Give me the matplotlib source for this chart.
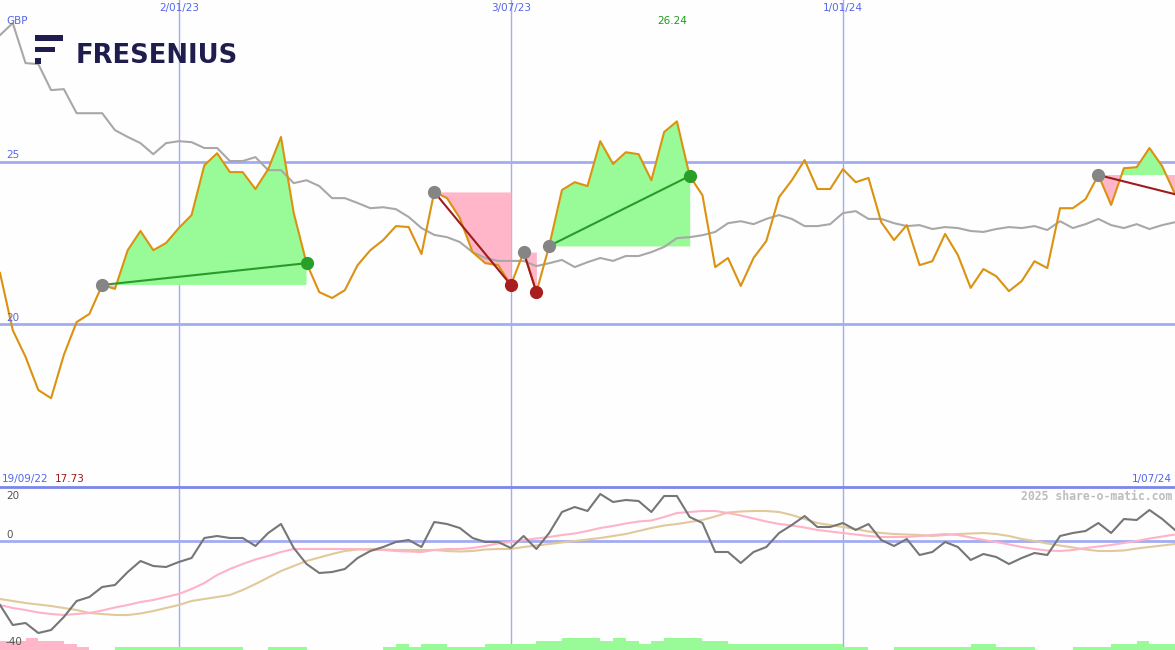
import numpy as np
import pandas as pd
import matplotlib
matplotlib.use("Agg")
import matplotlib.pyplot as plt
import matplotlib.dates as mdates
from matplotlib.patches import Rectangle
from matplotlib.lines import Line2D

# weekly closes, GBP
dates = mdates.date2num(pd.date_range("2022-09-26", "2024-07-01", freq="7D").to_pydatetime())

close = [21.58, 19.82, 19.00, 17.98, 17.73, 19.06, 20.07, 20.32, 21.21, 21.09,
         22.28, 22.87, 22.28, 22.50, 22.96, 23.36, 24.89, 25.26, 24.68, 24.68,
         24.16, 24.77, 25.76, 23.42, 21.88, 20.99, 20.81, 21.05, 21.82, 22.28,
         22.59, 23.02, 22.99, 22.16, 24.07, 23.88, 23.27, 22.22, 21.88, 21.82,
         21.21, 22.22, 20.99, 22.41, 24.13, 24.37, 24.25, 25.63, 24.93, 25.29,
         25.23, 24.43, 25.91, 26.24, 24.56, 23.97, 21.76, 22.04, 21.18, 22.04,
         22.56, 23.91, 24.43, 25.05, 24.16, 24.16, 24.77, 24.37, 24.50, 23.14,
         22.59, 23.05, 21.82, 21.94, 22.78, 22.13, 21.12, 21.70, 21.48, 21.02,
         21.33, 21.94, 21.73, 23.57, 23.57, 23.85, 24.59, 23.67, 24.80, 24.83,
         25.42, 24.86, 24.00]

avg = [28.89, 29.26, 28.03, 28.00, 27.20, 27.23, 26.49, 26.49, 26.49, 25.97,
       25.76, 25.57, 25.23, 25.57, 25.63, 25.60, 25.42, 25.42, 25.02, 25.02,
       25.14, 24.74, 24.74, 24.34, 24.43, 24.25, 23.88, 23.88, 23.73, 23.57,
       23.60, 23.54, 23.30, 22.96, 22.75, 22.68, 22.53, 22.22, 22.04, 21.95,
       21.95, 21.95, 21.79, 21.88, 21.98, 21.76, 21.91, 22.04, 21.95, 22.10,
       22.10, 22.22, 22.38, 22.65, 22.68, 22.74, 22.84, 23.11, 23.17, 23.08,
       23.24, 23.36, 23.24, 23.02, 23.02, 23.08, 23.42, 23.48, 23.24, 23.24,
       23.11, 23.02, 23.05, 22.93, 22.99, 22.96, 22.87, 22.84, 22.93, 22.99,
       22.96, 23.02, 22.90, 23.17, 22.96, 23.08, 23.24, 23.05, 22.96, 23.08,
       22.93, 23.05, 23.14]

# trades: entry week index, exit week index (last one still open)
entries = [8, 34, 41, 43, 86]
exits = [24, 40, 42, 54, 92]
closed = [True, True, True, True, False]

# lower panel oscillator
mom = [-25.6, -33.6, -32.8, -36.8, -35.6, -30.4, -24.0, -22.4, -18.4, -17.6,
       -12.4, -8.0, -10.0, -10.4, -8.4, -6.8, 1.2, 2.0, 1.2, 1.2,
       -2.0, 3.2, 6.8, -2.8, -9.2, -12.8, -12.4, -11.2, -6.8, -4.0,
       -2.4, -0.4, 0.4, -2.4, 7.6, 6.8, 5.2, 1.2, -0.4, -0.4,
       -2.8, 2.0, -3.2, 3.2, 11.6, 13.6, 12.0, 18.8, 15.6, 16.4,
       16.0, 11.6, 18.0, 18.0, 9.6, 7.2, -4.4, -4.4, -8.8, -4.4,
       -2.4, 3.2, 6.4, 10.0, 5.6, 5.6, 7.2, 4.4, 6.8, 0.4,
       -2.0, 0.8, -5.6, -4.4, -0.4, -2.4, -7.6, -5.2, -6.4, -9.2,
       -6.8, -4.8, -5.6, 2.0, 3.2, 4.0, 7.2, 3.2, 8.8, 8.4,
       12.4, 8.8, 4.4]

fast = [-25.6, -26.8, -27.6, -28.6, -29.2, -29.6, -29.2, -28.8, -27.8, -26.6,
        -25.6, -24.4, -23.6, -22.4, -21.2, -19.2, -16.8, -13.6, -11.2, -9.2,
        -7.4, -6.0, -4.4, -3.2, -3.2, -3.2, -3.2, -3.2, -3.2, -3.6,
        -3.6, -4.0, -4.2, -4.4, -3.6, -3.2, -3.2, -2.8, -2.0, -1.0,
        -0.4, 0.4, 1.0, 1.6, 2.4, 3.0, 4.0, 5.2, 6.0, 7.0,
        7.8, 8.2, 9.6, 11.2, 11.6, 12.0, 12.0, 11.2, 10.2, 9.0,
        7.8, 6.8, 6.2, 5.4, 4.4, 3.8, 3.2, 2.6, 2.0, 1.6,
        1.6, 1.6, 2.0, 2.4, 2.8, 2.4, 1.4, 0.4, -0.4, -1.4,
        -2.4, -3.2, -3.8, -4.0, -3.6, -2.8, -2.2, -1.6, -0.8, 0.0,
        1.0, 1.8, 2.6]

slow = [-23.2, -24.0, -24.8, -25.4, -26.0, -26.8, -27.6, -28.8, -29.2, -29.6,
        -29.6, -29.0, -28.0, -26.8, -25.6, -24.0, -23.2, -22.4, -21.6, -19.6,
        -17.2, -14.6, -12.0, -10.0, -8.0, -6.6, -5.2, -4.0, -3.4, -3.2,
        -3.4, -3.6, -3.6, -3.6, -3.6, -4.0, -4.2, -4.0, -3.4, -3.2,
        -3.2, -2.4, -1.8, -1.2, -0.6, 0.0, 0.6, 1.2, 2.0, 2.8,
        4.0, 5.2, 6.2, 6.8, 7.6, 8.4, 9.8, 11.4, 11.8, 12.0,
        12.0, 11.6, 10.4, 8.8, 7.2, 6.4, 5.6, 4.8, 3.8, 3.2,
        2.8, 2.6, 2.4, 2.0, 2.4, 2.8, 3.0, 3.2, 2.8, 2.0,
        0.8, 0.0, -1.0, -1.8, -2.6, -3.4, -4.0, -4.0, -3.8, -3.0,
        -2.4, -1.8, -1.2]

# signal strength bars along the bottom (negative = pink)
sig = [-3, -3, -4, -3, -3, -2, -1, 0, 0, 1,
       1, 1, 1, 1, 1, 1, 1, 1, 1, 0,
       0, 1, 1, 1, 0, 0, 0, 0, 0, 0,
       1, 2, 1, 2, 2, 1, 1, 1, 2, 2,
       2, 2, 3, 3, 4, 4, 4, 3, 4, 3,
       2, 3, 4, 4, 4, 3, 3, 2, 2, 2,
       2, 2, 2, 2, 2, 2, 1, 1, 0, 0,
       1, 1, 1, 1, 1, 1, 2, 2, 1, 1,
       1, 0, 0, 0, 1, 1, 1, 2, 2, 3,
       2, 2, 2]

grid_dates = ["2023-01-02", "2023-07-03", "2024-01-01"]
grid_labels = ["2/01/23", "3/07/23", "1/01/24"]

close = np.array(close)
bg = "#fdfefd"
gridblue = "#a3acf2"
textblue = "#5566e8"
green_fill = "#98fb98"
pink_fill = "#ffb6c8"

W, H = 1175, 650
fig = plt.figure(figsize=(W / 100, H / 100), dpi=100)
fig.patch.set_facecolor(bg)
ax = fig.add_axes([0, 1 - 487 / H, 1, 487 / H])
ax2 = fig.add_axes([0, 0, 1, 162 / H])
for a in (ax, ax2):
    a.set_axis_off()
    a.set_xlim(dates[0], dates[-1])
ax.set_ylim(15, 29.97)
ax2.set_ylim(-43.6, 21.2)

gx = mdates.date2num(pd.to_datetime(grid_dates).to_pydatetime())
for g in gx:
    ax.axvline(g, color=gridblue, lw=1, zorder=1)
    ax2.axvline(g, color=gridblue, lw=1, zorder=1)
ax.axhline(25, color=gridblue, lw=2, zorder=1)
ax.axhline(20, color=gridblue, lw=2, zorder=1)
ax2.axhline(0, color=gridblue, lw=2, zorder=1)
fig.add_artist(Line2D([0, 1], [1 - 487 / H, 1 - 487 / H], color="#7b87ea", lw=2))

# trade shading
for e, x, c in zip(entries, exits, closed):
    xs = dates[e:x + 1]
    ys = close[e:x + 1]
    lvl = close[e]
    ax.fill_between(xs, ys, lvl, where=ys >= lvl, interpolate=True, color=green_fill, lw=0, zorder=2)
    ax.fill_between(xs, ys, lvl, where=ys <= lvl, interpolate=True, color=pink_fill, lw=0, zorder=2)

ax.plot(dates, avg, color="#a8a8a8", lw=1.5, zorder=3)
ax.plot(dates, close, color="#dc9210", lw=1.5, zorder=4)

for e, x, c in zip(entries, exits, closed):
    win = close[x] > close[e]
    ax.plot([dates[e], dates[x]], [close[e], close[x]],
            color="#2a9a2a" if win else "#a01c1c", lw=1.5, zorder=5)
    ax.plot(dates[e], close[e], "o", color="#858585", ms=8.5, zorder=6)
    if c:
        ax.plot(dates[x], close[x], "o", color="#28a028" if win else "#a81e1e", ms=8.5, zorder=6)

# lower panel
ax2.plot(dates, slow, color="#e2c99c", lw=1.5, zorder=3)
ax2.plot(dates, fast, color="#ffb3c9", lw=1.5, zorder=3)
ax2.plot(dates, mom, color="#767676", lw=1.5, zorder=4)
ax3 = ax2.twinx()
ax3.set_axis_off()
ax3.set_ylim(0, 54)
ax3.set_xlim(dates[0], dates[-1])
sig = np.array(sig)
ax3.bar(dates, np.abs(sig), width=7, align="edge", lw=0,
        color=[green_fill if s > 0 else pink_fill for s in sig])

# labels
def ftext(x, y, s, **kw):
    kw.setdefault("fontsize", 7.5)
    kw.setdefault("va", "center")
    fig.text(x / W, 1 - y / H, s, **kw)

ftext(6, 21, "GBP", color=textblue)
for g, lab in zip(gx, grid_labels):
    xp = (g - dates[0]) / (dates[-1] - dates[0]) * W
    ftext(xp, 8.5, lab, color=textblue, ha="center")
imax = int(np.argmax(close))
xm = (dates[imax] - dates[0]) / (dates[-1] - dates[0]) * W
ftext(xm - 5, 21, f"{close.max():.2f}", color="#1e9a1e", ha="center")
ftext(6, 155, "25", color=textblue)
ftext(6, 318, "20", color=textblue)
ftext(2, 479, "19/09/22", color=textblue)
ftext(55, 479, f"{close.min():.2f}", color="#a01a1a")
ftext(1172, 479, "1/07/24", color=textblue, ha="right")
ftext(1172, 496, "2025 share-o-matic.com", color="#bdbdbd", ha="right",
      family="DejaVu Sans Mono", weight="bold", fontsize=8.3)
ftext(6, 496, "20", color="#555555")
ftext(6, 535, "0", color="#555555")
ftext(5, 642, "-40", color="#555555")

# logo
navy = "#1f1c4e"
for x0, y0, w, h in [(35, 35, 28, 5.5), (35, 46.5, 20, 5.5), (35, 58, 5.5, 5.5)]:
    fig.add_artist(Rectangle((x0 / W, 1 - (y0 + h) / H), w / W, h / H,
                             transform=fig.transFigure, color=navy, lw=0))
fig.text(76 / W, 1 - 63 / H, "FRESENIUS", fontsize=18.5, weight="bold",
         color=navy, va="baseline")

fig.savefig("out.png", dpi=100, facecolor=bg)
